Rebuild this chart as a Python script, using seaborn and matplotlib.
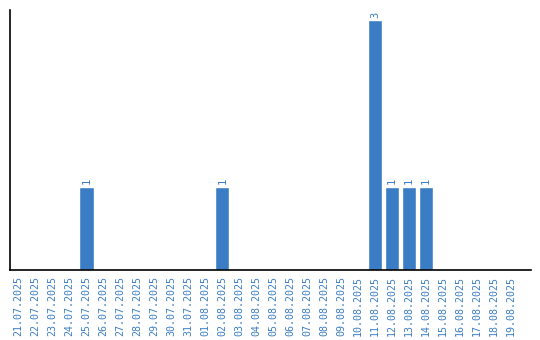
import matplotlib
matplotlib.use("Agg")
import matplotlib.pyplot as plt
import seaborn as sns
import pandas as pd

dates = ["21.07.2025", "22.07.2025", "23.07.2025", "24.07.2025", "25.07.2025",
         "26.07.2025", "27.07.2025", "28.07.2025", "29.07.2025", "30.07.2025",
         "31.07.2025", "01.08.2025", "02.08.2025", "03.08.2025", "04.08.2025",
         "05.08.2025", "06.08.2025", "07.08.2025", "08.08.2025", "09.08.2025",
         "10.08.2025", "11.08.2025", "12.08.2025", "13.08.2025", "14.08.2025",
         "15.08.2025", "16.08.2025", "17.08.2025", "18.08.2025", "19.08.2025"]
counts = [0, 0, 0, 0, 1, 0, 0, 0, 0, 0,
          0, 0, 1, 0, 0, 0, 0, 0, 0, 0,
          0, 3, 1, 1, 1, 0, 0, 0, 0, 0]

df = pd.DataFrame({"date": dates, "count": counts})
blue = "#3b7dc4"

sns.set_style("white")
fig = plt.figure(figsize=(5.4, 3.4), dpi=100)
ax = fig.add_axes([10/540, 70/340, 521/540, 260/340])
sns.barplot(data=df, x="date", y="count", color=blue, width=0.85,
            saturation=1, ax=ax)

for i, v in enumerate(counts):
    if v > 0:
        ax.text(i, v + 0.03, str(v), rotation=90, ha="center", va="bottom",
                color=blue, fontsize=7.5, family="DejaVu Sans Mono")

ax.set_xlim(-0.5, 30.18)
ax.set_ylim(0, 3.12)
ax.set_xlabel("")
ax.set_ylabel("")
ax.set_yticks([])
ax.tick_params(axis="x", length=0, pad=4)
for lbl in ax.get_xticklabels():
    lbl.set_rotation(90)
    lbl.set_color(blue)
    lbl.set_fontsize(7.2)
    lbl.set_family("DejaVu Sans Mono")
for s in ["top", "right"]:
    ax.spines[s].set_visible(False)
for s in ["left", "bottom"]:
    ax.spines[s].set_color("black")
    ax.spines[s].set_linewidth(1.2)

fig.savefig("out.png", dpi=100)
